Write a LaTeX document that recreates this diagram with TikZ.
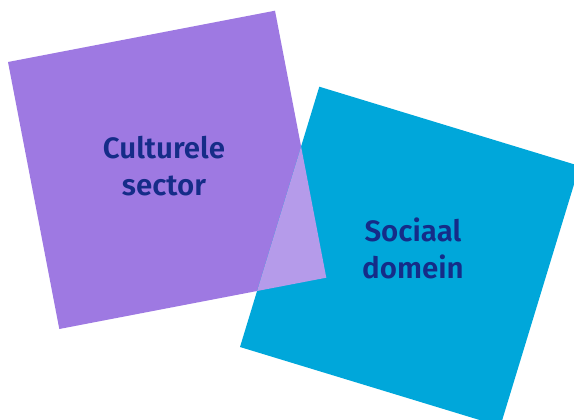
\documentclass[tikz,border=0pt]{standalone}
\usepackage{fontspec}
\setmainfont{Fira Sans}[BoldFont={Fira Sans SemiBold}]
\definecolor{purp}{HTML}{9E79E2}
\definecolor{blu}{HTML}{00A7DA}
\definecolor{ovl}{HTML}{B59BEA}
\definecolor{navy}{HTML}{152C88}
\begin{document}
\begin{tikzpicture}[x=1pt,y=-1pt,
  lbl/.style={text=navy,font=\fontsize{29.5}{37}\selectfont\bfseries,align=center}]
\useasboundingbox (0,0) rectangle (574,420);
\clip (0,0) rectangle (574,420);
\coordinate (p1) at (8,62);
\coordinate (p2) at (275,10.7);
\coordinate (p3) at (326.3,277.7);
\coordinate (p4) at (59.3,329);
\coordinate (b1) at (319.3,86.7);
\coordinate (b2) at (579.6,166);
\coordinate (b3) at (500.3,426.3);
\coordinate (b4) at (240,347);
\fill[purp] (p1) -- (p2) -- (p3) -- (p4) -- cycle;
\fill[blu] (b1) -- (b2) -- (b3) -- (b4) -- cycle;
\begin{scope}
\clip (b1) -- (b2) -- (b3) -- (b4) -- cycle;
\fill[ovl] (p1) -- (p2) -- (p3) -- (p4) -- cycle;
\end{scope}
\node[lbl] (cs) at (164,166) {Culturele\\sector};
\node[lbl] (sd) at (413,248) {Sociaal\\domein};
\end{tikzpicture}
\end{document}
